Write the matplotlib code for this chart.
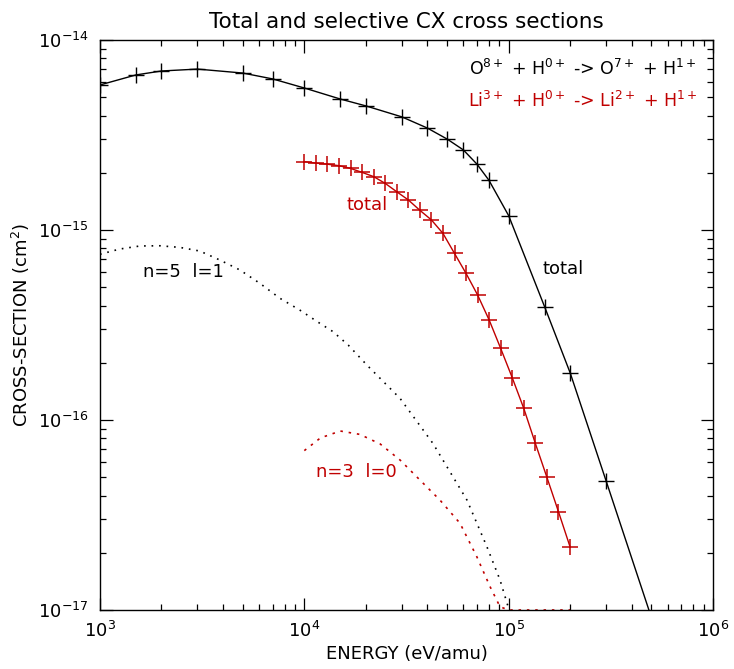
import matplotlib
matplotlib.use("Agg")
import matplotlib.pyplot as plt
import numpy as np
from matplotlib.ticker import LogLocator, NullFormatter

# O8+ + H -> total (black)
o_energy = [1.0e3, 1.5e3, 2.0e3, 3.0e3, 5.0e3, 7.0e3, 1.0e4, 1.5e4, 2.0e4, 3.0e4,
            4.0e4, 5.0e4, 6.0e4, 7.0e4, 8.0e4, 1.0e5, 1.5e5, 2.0e5, 3.0e5, 5.0e5]
o_total = [5.80e-15, 6.55e-15, 6.87e-15, 7.03e-15, 6.70e-15, 6.24e-15, 5.59e-15, 4.89e-15,
           4.50e-15, 3.94e-15, 3.44e-15, 3.01e-15, 2.64e-15, 2.22e-15, 1.83e-15, 1.19e-15,
           3.94e-16, 1.77e-16, 4.77e-17, 9.1e-18]

# O8+ selective n=5 l=1 (black dotted)
o_n5_energy = [1.0e3, 1.25e3, 1.57e3, 1.97e3, 2.46e3, 3.08e3, 3.86e3, 4.84e3, 6.06e3,
               7.6e3, 9.5e3, 1.19e4, 1.38e4, 1.64e4, 2.03e4, 2.94e4, 4.26e4, 6.25e4,
               7.83e4, 9.07e4, 9.94e4]
o_n5 = [7.45e-16, 7.94e-16, 8.24e-16, 8.26e-16, 8.10e-16, 7.75e-16, 6.95e-16, 6.16e-16,
        5.24e-16, 4.37e-16, 3.79e-16, 3.23e-16, 2.92e-16, 2.48e-16, 1.94e-16, 1.30e-16,
        7.53e-17, 3.79e-17, 2.15e-17, 1.44e-17, 1.04e-17]

# Li3+ + H -> total (red)
li_energy = [1.000e4, 1.139e4, 1.297e4, 1.478e4, 1.683e4, 1.917e4, 2.184e4, 2.487e4,
             2.833e4, 3.227e4, 3.676e4, 4.187e4, 4.769e4, 5.432e4, 6.187e4, 7.047e4,
             8.027e4, 9.142e4, 1.041e5, 1.186e5, 1.351e5, 1.539e5, 1.753e5, 2.000e5]
li_total = [2.29e-15, 2.25e-15, 2.22e-15, 2.18e-15, 2.11e-15, 2.01e-15, 1.91e-15, 1.76e-15,
            1.59e-15, 1.44e-15, 1.27e-15, 1.13e-15, 9.6e-16, 7.53e-16, 5.91e-16, 4.55e-16,
            3.36e-16, 2.38e-16, 1.67e-16, 1.15e-16, 7.53e-17, 4.99e-17, 3.29e-17, 2.14e-17]

# Li3+ selective n=3 l=0 (red dotted)
li_n3_energy = [1.0e4, 1.2e4, 1.5e4, 1.87e4, 2.35e4, 2.94e4, 3.68e4, 4.61e4, 5.78e4,
                6.98e4, 8.1e4, 9.07e4, 1.0e5, 1.5e5, 2.0e5]
li_n3 = [6.9e-17, 8.05e-17, 8.75e-17, 8.4e-17, 7.48e-17, 6.16e-17, 4.83e-17, 3.79e-17,
         2.86e-17, 1.91e-17, 1.33e-17, 1.04e-17, 8.0e-18, 2.0e-18, 5.0e-19]

x_major = [1e3, 1e4, 1e5, 1e6]
y_major = [1e-17, 1e-16, 1e-15, 1e-14]

YMIN, YMAX = 1e-17, 1e-14
RED = "#c00000"

plt.rcParams["font.family"] = "DejaVu Sans"
plt.rcParams["mathtext.fontset"] = "dejavusans"

fig = plt.figure(figsize=(7.34, 6.69), dpi=100)
ax = fig.add_axes([0.1362, 0.0882, 0.8352, 0.852])

ax.plot(o_energy, o_total, color="black", lw=1.0, marker="+", ms=11, mew=1.0)
ax.plot(o_n5_energy, o_n5, color="black", lw=1.2, ls=(0, (1, 3.5)))
ax.plot(li_energy, li_total, color=RED, lw=1.0, marker="+", ms=11, mew=1.1)
# IDL draws values below the y range along the bottom axis
ax.plot(li_n3_energy, np.clip(li_n3, YMIN, None), color=RED, lw=1.2, ls=(0, (1.5, 3.5)))

ax.set_xscale("log")
ax.set_yscale("log")
ax.set_xlim(1e3, 1e6)
ax.set_ylim(YMIN, YMAX)
ax.set_xticks(x_major)
ax.set_yticks(y_major)

for axis in (ax.xaxis, ax.yaxis):
    axis.set_minor_locator(LogLocator(base=10, subs=np.arange(2, 10), numticks=10))
    axis.set_minor_formatter(NullFormatter())
ax.tick_params(which="both", direction="in", top=True, right=True, color="black", width=0.9)
ax.tick_params(which="major", length=9, labelsize=13, pad=8)
ax.tick_params(which="minor", length=4.5)
for s in ax.spines.values():
    s.set_linewidth(1.0)

ax.set_title("Total and selective CX cross sections", fontsize=15.5, pad=9)
ax.set_xlabel("ENERGY (eV/amu)", fontsize=13, labelpad=3)
ax.set_ylabel("CROSS-SECTION (cm$^2$)", fontsize=13, labelpad=4)

ax.text(0.974, 0.949, "O$^{8+}$ + H$^{0+}$ -> O$^{7+}$ + H$^{1+}$", transform=ax.transAxes,
        ha="right", va="center", fontsize=12.5, color="black")
ax.text(0.974, 0.893, "Li$^{3+}$ + H$^{0+}$ -> Li$^{2+}$ + H$^{1+}$", transform=ax.transAxes,
        ha="right", va="center", fontsize=12.5, color=RED)

ax.text(1.47e5, 6.2e-16, "total", ha="left", va="center", fontsize=13, color="black")
ax.text(1.6e4, 1.36e-15, "total", ha="left", va="center", fontsize=13, color=RED)
ax.text(1.62e3, 6.0e-16, "n=5  l=1", ha="left", va="center", fontsize=13, color="black")
ax.text(1.14e4, 5.3e-17, "n=3  l=0", ha="left", va="center", fontsize=13, color=RED)

fig.savefig("out.png", dpi=100)
